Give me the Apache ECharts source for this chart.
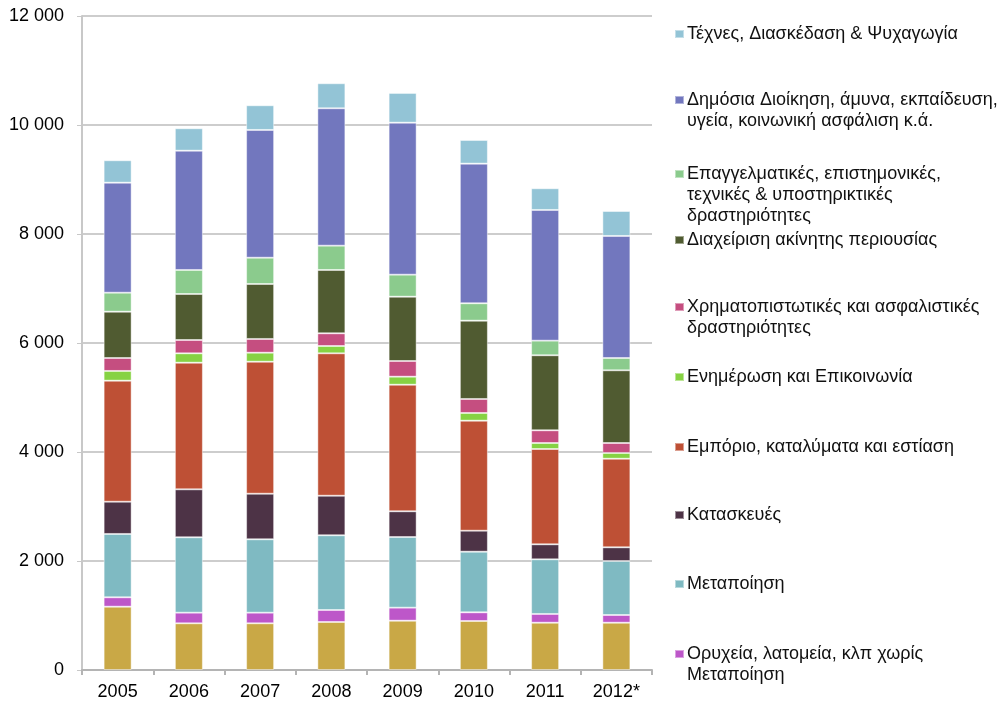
<!DOCTYPE html>
<html>
<head>
<meta charset="utf-8">
<script src="https://cdn.jsdelivr.net/npm/echarts@6/dist/echarts.min.js"></script>
<style>
  html, body { margin: 0; padding: 0; background: #fff; }
  #chart { width: 1005px; height: 708px; }
</style>
</head>
<body>
<div id="chart"></div>
<script>
// 年份
const years = ['2005', '2006', '2007', '2008', '2009', '2010', '2011', '2012*'];

// 各部门数值（自下而上堆叠）
const agriculture   = [1162, 857, 857, 881, 905, 899, 868, 868];
const mining        = [172, 195, 195, 220, 239, 159, 160, 141];
const manufacturing = [1162, 1383, 1346, 1371, 1296, 1113, 1003, 991];
const construction  = [592, 880, 837, 726, 472, 385, 275, 251];
const trade         = [2221, 2324, 2422, 2613, 2323, 2019, 1749, 1626];
const information   = [178, 172, 165, 134, 147, 141, 110, 105];
const finance       = [238, 244, 252, 233, 288, 257, 233, 183];
const realEstate    = [850, 844, 1009, 1162, 1180, 1437, 1377, 1334];
const professional  = [348, 441, 482, 446, 404, 319, 268, 226];
const publicAdmin   = [2019, 2189, 2344, 2521, 2789, 2562, 2398, 2239];
const arts          = [411, 411, 453, 459, 545, 434, 398, 458];

const seriesDefs = [
  { name: 'Γεωργία, δασοκομία και αλιεία', data: agriculture, color: '#C9A846' },
  { name: 'Ορυχεία, λατομεία, κλπ χωρίς\nΜεταποίηση', data: mining, color: '#BD57C9' },
  { name: 'Μεταποίηση', data: manufacturing, color: '#7FBAC2' },
  { name: 'Κατασκευές', data: construction, color: '#4D3346' },
  { name: 'Εμπόριο, καταλύματα και εστίαση', data: trade, color: '#BE5035' },
  { name: 'Ενημέρωση και Επικοινωνία', data: information, color: '#86D243' },
  { name: 'Χρηματοπιστωτικές και ασφαλιστικές\nδραστηριότητες', data: finance, color: '#C54E80' },
  { name: 'Διαχείριση ακίνητης περιουσίας', data: realEstate, color: '#505B31' },
  { name: 'Επαγγελματικές, επιστημονικές,\nτεχνικές & υποστηρικτικές\nδραστηριότητες', data: professional, color: '#8BCB8D' },
  { name: 'Δημόσια Διοίκηση, άμυνα, εκπαίδευση,\nυγεία, κοινωνική ασφάλιση κ.ά.', data: publicAdmin, color: '#7277BE' },
  { name: 'Τέχνες, Διασκέδαση & Ψυχαγωγία', data: arts, color: '#93C4D6' }
];

// 图例第一行的中心位置
const legendCenters = {
  'Τέχνες, Διασκέδαση & Ψυχαγωγία': 29,
  'Δημόσια Διοίκηση, άμυνα, εκπαίδευση,\nυγεία, κοινωνική ασφάλιση κ.ά.': 95,
  'Επαγγελματικές, επιστημονικές,\nτεχνικές & υποστηρικτικές\nδραστηριότητες': 169,
  'Διαχείριση ακίνητης περιουσίας': 235,
  'Χρηματοπιστωτικές και ασφαλιστικές\nδραστηριότητες': 302,
  'Ενημέρωση και Επικοινωνία': 372,
  'Εμπόριο, καταλύματα και εστίαση': 442,
  'Κατασκευές': 510,
  'Μεταποίηση': 579,
  'Ορυχεία, λατομεία, κλπ χωρίς\nΜεταποίηση': 649
};

const FONT = 'Liberation Sans, Arial, sans-serif';
const lineH = 21;
const legends = Object.keys(legendCenters).map(function (name) {
  const n = name.split('\n').length;
  return {
    orient: 'vertical',
    left: 669,
    top: legendCenters[name] - (n - 1) * lineH - lineH / 2,
    data: [name],
    icon: 'rect',
    itemWidth: 9,
    itemHeight: 8,
    itemGap: 4,
    selectedMode: false,
    formatter: function (nm) {
      // 多行文字时在前面补空行，使色块对齐第一行
      const k = nm.split('\n').length;
      return '\n'.repeat(k - 1) + nm;
    },
    textStyle: {
      fontFamily: FONT,
      fontSize: 18,
      color: '#111',
      lineHeight: lineH,
      padding: [0, 0, 0, -2]
    }
  };
});

const chart = echarts.init(document.getElementById('chart'));
const option = {
  animation: false,
  legend: legends,
  grid: {
    left: 82,
    right: 353,
    top: 16,
    bottom: 38
  },
  xAxis: {
    type: 'category',
    data: years,
    axisLine: { lineStyle: { color: '#b4b4b4', width: 2 } },
    axisTick: { show: true, length: 5, lineStyle: { color: '#b4b4b4', width: 2 } },
    axisLabel: {
      color: '#000',
      fontFamily: FONT,
      fontSize: 18,
      margin: 13
    }
  },
  yAxis: {
    type: 'value',
    min: 0,
    max: 12000,
    interval: 2000,
    axisLine: { show: true, lineStyle: { color: '#c8c8c8', width: 2 } },
    axisTick: { show: true, length: 5, lineStyle: { color: '#c8c8c8' } },
    splitLine: { lineStyle: { color: '#bcbcbc', width: 1.5 } },
    axisLabel: {
      color: '#000',
      fontFamily: FONT,
      fontSize: 18,
      margin: 18,
      formatter: function (v) {
        return String(v).replace(/\B(?=(\d{3})+(?!\d))/g, ' ');
      }
    }
  },
  series: seriesDefs.map(function (s) {
    return {
      name: s.name,
      type: 'bar',
      stack: 'total',
      barWidth: 28,
      data: s.data,
      itemStyle: {
        color: s.color,
        borderColor: 'rgba(255,255,255,0.45)',
        borderWidth: 1
      }
    };
  })
};
chart.setOption(option);
</script>
</body>
</html>
